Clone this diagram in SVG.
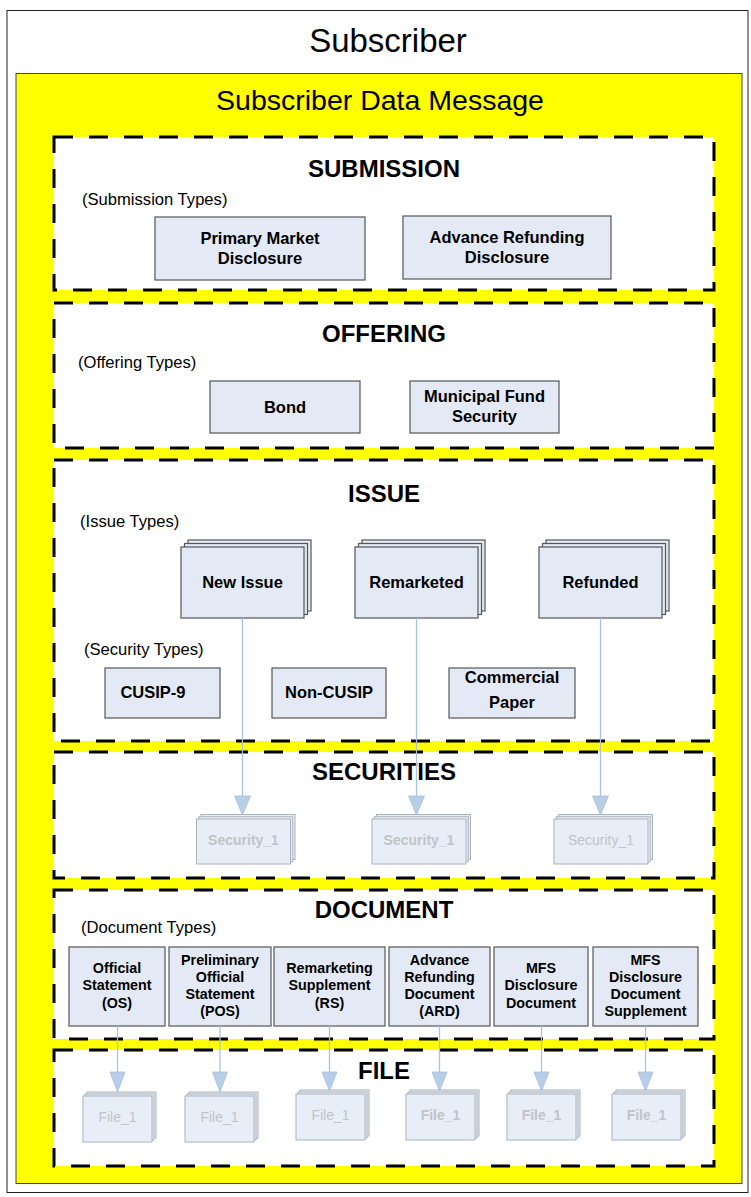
<svg xmlns="http://www.w3.org/2000/svg" width="751" height="1197" viewBox="0 0 751 1197">
<style>
text{font-family:"Liberation Sans",Arial,sans-serif;fill:#000}
.sec{fill:#fff;stroke:#000;stroke-width:3;stroke-dasharray:19 16}
.title{font-size:24px;font-weight:bold;text-anchor:middle}
.typ{font-size:16.6px}
.box{fill:#e4eaf5;stroke:#555;stroke-width:1.2}
.lbl{font-size:16.5px;font-weight:bold;text-anchor:middle}
.dl{font-size:14.3px;font-weight:bold;text-anchor:middle}
.ghost{fill:#e8eef7;stroke:#aab2bd;stroke-width:1}
.gt{font-size:14px;fill:#c0c4c8;text-anchor:middle}
.gb{font-weight:bold}
.con{stroke:#aac2e0;stroke-width:1.3;fill:none}
.ah{fill:#b8cde6;stroke:#a8bedc;stroke-width:0.8}
</style>
<defs>
<g id="istack">
<rect class="box" x="7" y="-7" width="123" height="71"/>
<rect class="box" x="3.5" y="-3.5" width="123" height="71"/>
<rect class="box" x="0" y="0" width="123" height="71"/>
</g>
<g id="sstack">
<rect class="ghost" x="4.5" y="-4.5" width="94" height="45"/>
<rect class="ghost" x="2.25" y="-2.25" width="94" height="45"/>
<rect class="ghost" x="0" y="0" width="94" height="45"/>
</g>
<g id="fstack">
<rect class="ghost" x="4" y="-4" width="69" height="46"/>
<rect class="ghost" x="2" y="-2" width="69" height="46"/>
<rect class="ghost" x="0" y="0" width="69" height="46"/>
</g>
</defs>

<g id="subscriber">
<rect x="7" y="10.5" width="741" height="1182" fill="#fff" stroke="#222" stroke-width="1"/>
<text x="388" y="52" font-size="33" text-anchor="middle">Subscriber</text>
</g>
<g id="subscriber-data-message">
<rect x="16" y="73.5" width="726" height="1110" fill="#ffff00" stroke="#444" stroke-width="1"/>
<text x="380" y="110" font-size="28.5" text-anchor="middle">Subscriber Data Message</text>
</g>

<g id="submission">
<rect class="sec" x="54" y="137" width="660" height="153"/>
<text class="title" x="384" y="177">SUBMISSION</text>
<text class="typ" x="82" y="205">(Submission Types)</text>
</g>
<g id="primary-market-disclosure">
<rect class="box" x="155" y="217" width="210" height="63"/>
<text class="lbl" x="260" y="244">Primary Market</text>
<text class="lbl" x="260" y="264">Disclosure</text>
</g>
<g id="advance-refunding-disclosure">
<rect class="box" x="403" y="216" width="208" height="63"/>
<text class="lbl" x="507" y="243">Advance Refunding</text>
<text class="lbl" x="507" y="263">Disclosure</text>
</g>

<g id="offering">
<rect class="sec" x="54" y="303" width="660" height="145"/>
<text class="title" x="384" y="342">OFFERING</text>
<text class="typ" x="78" y="368">(Offering Types)</text>
</g>
<g id="bond">
<rect class="box" x="210" y="381" width="150" height="52"/>
<text class="lbl" x="285" y="413">Bond</text>
</g>
<g id="municipal-fund-security">
<rect class="box" x="410" y="381" width="149" height="52"/>
<text class="lbl" x="484.5" y="402">Municipal Fund</text>
<text class="lbl" x="484.5" y="422">Security</text>
</g>

<g id="issue">
<rect class="sec" x="54" y="460" width="660" height="281"/>
<text class="title" x="384" y="502">ISSUE</text>
<text class="typ" x="80" y="527">(Issue Types)</text>
<text class="typ" x="84" y="655">(Security Types)</text>
</g>
<g id="new-issue">
<use href="#istack" x="181" y="547"/>
<text class="lbl" x="242.5" y="588">New Issue</text>
</g>
<g id="remarketed">
<use href="#istack" x="355" y="547"/>
<text class="lbl" x="416.5" y="588">Remarketed</text>
</g>
<g id="refunded">
<use href="#istack" x="539" y="547"/>
<text class="lbl" x="600.5" y="588">Refunded</text>
</g>
<g id="cusip-9">
<rect class="box" x="105" y="668" width="115" height="50"/>
<text class="lbl" x="153" y="698">CUSIP-9</text>
</g>
<g id="non-cusip">
<rect class="box" x="272" y="668" width="114" height="50"/>
<text class="lbl" x="329" y="698">Non-CUSIP</text>
</g>
<g id="commercial-paper">
<rect class="box" x="449" y="668" width="126" height="50"/>
<text class="lbl" x="512" y="683">Commercial</text>
<text class="lbl" x="512" y="708">Paper</text>
</g>

<g id="securities">
<rect class="sec" x="54" y="752" width="660" height="126"/>
<text class="title" x="384" y="780">SECURITIES</text>
</g>
<g id="security-1a">
<use href="#sstack" x="196.5" y="819"/>
<text class="gt gb" x="243.5" y="845">Security_1</text>
</g>
<g id="security-1b">
<use href="#sstack" x="372" y="819"/>
<text class="gt gb" x="419" y="845">Security_1</text>
</g>
<g id="security-1c">
<use href="#sstack" x="554" y="819"/>
<text class="gt" x="601" y="845">Security_1</text>
</g>

<g id="document">
<rect class="sec" x="54" y="890" width="660" height="149"/>
<text class="title" x="384" y="918">DOCUMENT</text>
<text class="typ" x="81" y="933">(Document Types)</text>
</g>
<g id="doc-os">
<rect class="box" x="69" y="947" width="96" height="79"/>
<text class="dl" x="117" y="973">Official</text>
<text class="dl" x="117" y="990">Statement</text>
<text class="dl" x="117" y="1008">(OS)</text>
</g>
<g id="doc-pos">
<rect class="box" x="169" y="947" width="102" height="79"/>
<text class="dl" x="220" y="965">Preliminary</text>
<text class="dl" x="220" y="982">Official</text>
<text class="dl" x="220" y="999">Statement</text>
<text class="dl" x="220" y="1016">(POS)</text>
</g>
<g id="doc-rs">
<rect class="box" x="274" y="947" width="111" height="79"/>
<text class="dl" x="329.5" y="973">Remarketing</text>
<text class="dl" x="329.5" y="990">Supplement</text>
<text class="dl" x="329.5" y="1008">(RS)</text>
</g>
<g id="doc-ard">
<rect class="box" x="389" y="947" width="101" height="79"/>
<text class="dl" x="439.5" y="965">Advance</text>
<text class="dl" x="439.5" y="982">Refunding</text>
<text class="dl" x="439.5" y="999">Document</text>
<text class="dl" x="439.5" y="1016">(ARD)</text>
</g>
<g id="doc-mfs">
<rect class="box" x="494" y="947" width="94" height="79"/>
<text class="dl" x="541" y="973">MFS</text>
<text class="dl" x="541" y="990">Disclosure</text>
<text class="dl" x="541" y="1008">Document</text>
</g>
<g id="doc-mfss">
<rect class="box" x="593" y="947" width="105" height="79"/>
<text class="dl" x="645.5" y="965">MFS</text>
<text class="dl" x="645.5" y="982">Disclosure</text>
<text class="dl" x="645.5" y="999">Document</text>
<text class="dl" x="645.5" y="1016">Supplement</text>
</g>

<g id="file">
<rect class="sec" x="54" y="1050" width="660" height="116"/>
<text class="title" x="384" y="1079">FILE</text>
</g>
<g id="file-1">
<use href="#fstack" x="83" y="1096"/>
<text class="gt" x="117.5" y="1122">File_1</text>
</g>
<g id="file-2">
<use href="#fstack" x="185" y="1096"/>
<text class="gt" x="219.5" y="1122">File_1</text>
</g>
<g id="file-3">
<use href="#fstack" x="296" y="1094"/>
<text class="gt" x="330.5" y="1120">File_1</text>
</g>
<g id="file-4">
<use href="#fstack" x="406" y="1094"/>
<text class="gt gb" x="440.5" y="1120">File_1</text>
</g>
<g id="file-5">
<use href="#fstack" x="507" y="1094"/>
<text class="gt gb" x="541.5" y="1120">File_1</text>
</g>
<g id="file-6">
<use href="#fstack" x="612" y="1094"/>
<text class="gt gb" x="646.5" y="1120">File_1</text>
</g>

<g id="connectors">
<path class="con" d="M242.5 618V797M416.5 618V797M600.5 618V797"/>
<path class="ah" d="M234.5 796H250.5L242.5 815Z"/>
<path class="ah" d="M408.5 796H424.5L416.5 815Z"/>
<path class="ah" d="M592.5 796H608.5L600.5 815Z"/>
<path class="con" d="M117.5 1026V1073M220 1026V1073M329.5 1026V1073M439.5 1026V1073M541.5 1026V1073M645.5 1026V1073"/>
<path class="ah" d="M110 1072H125L117.5 1092Z"/>
<path class="ah" d="M212.5 1072H227.5L220 1092Z"/>
<path class="ah" d="M322 1072H337L329.5 1091Z"/>
<path class="ah" d="M432 1072H447L439.5 1091Z"/>
<path class="ah" d="M534 1072H549L541.5 1091Z"/>
<path class="ah" d="M638 1072H653L645.5 1091Z"/>
</g>
</svg>
